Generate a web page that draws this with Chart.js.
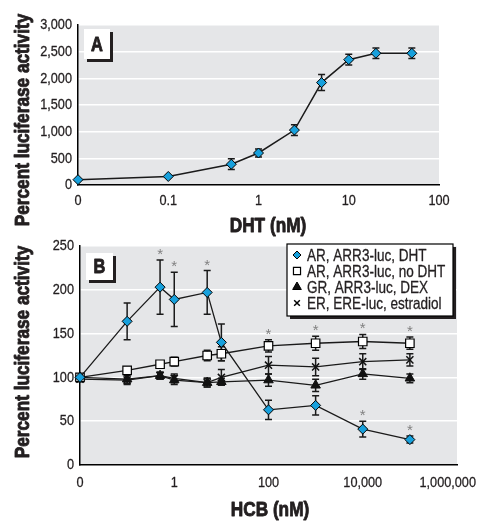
<!DOCTYPE html>
<html>
<head>
<meta charset="utf-8">
<script src="https://cdn.jsdelivr.net/npm/chart.js@4/dist/chart.umd.min.js"></script>
<style>
  html, body { margin: 0; padding: 0; background: #fff; }
  #wrap { position: relative; width: 477px; height: 521px; overflow: hidden; }
  #boxA { position: absolute; left: 0; top: 0; width: 477px; height: 240px; }
  #boxB { position: absolute; left: 0; top: 230px; width: 477px; height: 291px; }
</style>
</head>
<body>
<div id="wrap">
  <div id="boxA"><canvas id="chartA"></canvas></div>
  <div id="boxB"><canvas id="chartB"></canvas></div>
</div>
<script>
// Panel A: DHT dose response (dose 0 is drawn at the "0" position of the log axis)
const dhtDose = [0, 0.1, 0.5, 1, 2.5, 5, 10, 20, 50];
const dhtActivity = [100, 160, 390, 600, 1030, 1920, 2350, 2470, 2470];
const dhtActivityErr = [0, 0, 100, 75, 100, 150, 100, 100, 100];
const dhtTicks = [0.01, 0.1, 1, 10, 100];
const dhtTickLabels = ["0", "0.1", "1", "10", "100"];

// Panel B: HCB dose response
const hcbDose = [0, 0.1, 0.5, 1, 5, 10, 100, 1000, 10000, 100000];
const arDht = [100, 164, 203, 189, 197, 140, 63, 68, 41, 29];
const arDhtErr = [2, 21, 31, 31, 25, 21, 11, 11, 9, 4];
const arDhtSig = [0, 0, 1, 1, 1, 0, 0, 0, 1, 1];
const arNoDht = [100, 108, 115, 118, 125, 127, 136, 139, 141, 139];
const arNoDhtErr = [2, 4, 4, 5, 6, 8, 7, 8, 8, 7];
const arNoDhtSig = [0, 0, 0, 0, 0, 0, 1, 1, 1, 1];
const grDex = [100, 98, 102, 97, 94, 95, 97, 91, 104, 99];
const grDexErr = [3, 5, 4, 5, 5, 4, 7, 7, 6, 5];
const erE2 = [98, 97, 102, 99, 94, 100, 114, 112, 118, 120];
const erE2Err = [3, 5, 4, 5, 5, 9, 10, 10, 9, 7];
const hcbTicks = [0.01, 1, 100, 10000, 1000000];
const hcbTickLabels = ["0", "1", "100", "10,000", "1,000,000"];

const FONT = "'Liberation Sans', Arial, sans-serif";
const NARROW = 0.82; // squeeze Liberation Sans into a narrow face
const INK = "#231f20";
const BLUE = "#17a0dc";
const ZERO_AT = 0.01;
const xPos = (d) => (d === 0 ? ZERO_AT : d);
const pts = (doses, vals) => doses.map((d, i) => ({ x: xPos(d), y: vals[i] }));

// narrow text, drawn at (x, y) with optional rotation; heavy adds a stroke
function text(ctx, str, x, y, align, rot, heavy) {
  ctx.save();
  ctx.translate(x, y);
  if (rot) ctx.rotate(rot);
  ctx.scale(NARROW, 1);
  ctx.textAlign = align;
  ctx.fillText(str, 0, 0);
  if (heavy) {
    ctx.strokeStyle = ctx.fillStyle;
    ctx.lineWidth = heavy;
    ctx.lineJoin = "round";
    ctx.strokeText(str, 0, 0);
  }
  ctx.restore();
}

function shadowBox(ctx, x, y, w, h, border) {
  ctx.fillStyle = INK;
  ctx.fillRect(x + 3, y + 3, w, h);
  ctx.fillStyle = "#fff";
  ctx.fillRect(x, y, w, h);
  if (border) {
    ctx.strokeStyle = "#000";
    ctx.lineWidth = 1.2;
    ctx.strokeRect(x, y, w, h);
  }
}

const extras = {
  id: "extras",
  beforeDraw(chart) {
    const { ctx, chartArea: a } = chart;
    ctx.save();
    ctx.fillStyle = "#e5e6e8";
    ctx.fillRect(a.left, a.top, a.right - a.left, a.bottom - a.top);
    ctx.restore();
  },
  beforeDatasetsDraw(chart) {
    // error bars
    const { ctx } = chart;
    const y = chart.scales.y;
    chart.data.datasets.forEach((ds, i) => {
      const items = chart.getDatasetMeta(i).data;
      ctx.save();
      ctx.strokeStyle = "#1a1a1a";
      ctx.lineWidth = 1.5;
      ds.errors.forEach((e, j) => {
        if (!e) return;
        const v = ds.data[j].y;
        const px = items[j].x;
        const top = y.getPixelForValue(v + e);
        const bot = y.getPixelForValue(v - e);
        ctx.beginPath();
        ctx.moveTo(px, top);
        ctx.lineTo(px, bot);
        ctx.moveTo(px - 3.5, top);
        ctx.lineTo(px + 3.5, top);
        ctx.moveTo(px - 3.5, bot);
        ctx.lineTo(px + 3.5, bot);
        ctx.stroke();
      });
      ctx.restore();
    });
  },
  afterDraw(chart, args, opts) {
    const { ctx, chartArea: a } = chart;
    const x = chart.scales.x;
    const y = chart.scales.y;
    ctx.save();

    // significance stars
    ctx.fillStyle = "#808080";
    ctx.font = "15px " + FONT;
    ctx.textAlign = "center";
    ctx.textBaseline = "alphabetic";
    const m = ctx.measureText("*");
    const shift = (m.actualBoundingBoxAscent - m.actualBoundingBoxDescent) / 2;
    chart.data.datasets.forEach((ds, i) => {
      if (!ds.sig) return;
      const items = chart.getDatasetMeta(i).data;
      ds.sig.forEach((s, j) => {
        if (!s) return;
        const top = y.getPixelForValue(ds.data[j].y + ds.errors[j]);
        ctx.fillText("*", items[j].x, top - 8 + shift);
      });
    });

    // tick labels
    ctx.fillStyle = INK;
    ctx.font = "15.5px " + FONT;
    ctx.textBaseline = "middle";
    y.ticks.forEach((t) => {
      text(ctx, t.value.toLocaleString("en-US"), a.left - 6, y.getPixelForValue(t.value), "right", 0, 0.3);
    });
    opts.ticks.forEach((t, i) => {
      const label = opts.tickLabels[i];
      const w = ctx.measureText(label).width * NARROW;
      let px = x.getPixelForValue(t);
      px = Math.min(px, chart.width - 1 - w / 2);
      text(ctx, label, px, a.bottom + opts.tickOffset, "center", 0, 0.3);
    });

    // axis titles
    ctx.font = "bold 21px " + FONT;
    text(ctx, opts.xTitle, opts.xTitleAt[0], opts.xTitleAt[1], "center", 0, 0.9);
    text(ctx, opts.yTitle, opts.yTitleAt[0], opts.yTitleAt[1], "center", -Math.PI / 2, 0.9);

    // panel letter
    const p = opts.panelBox;
    shadowBox(ctx, p[0], p[1], p[2], p[3], false);
    ctx.fillStyle = INK;
    ctx.font = "bold 20px " + FONT;
    text(ctx, opts.panel, p[0] + p[2] / 2, p[1] + p[3] / 2 + 1, "center", 0, 0.9);

    // legend
    if (opts.legendBox) {
      const L = opts.legendBox;
      shadowBox(ctx, L[0], L[1], L[2], L[3], true);
      ctx.font = "16.5px " + FONT;
      chart.data.datasets.forEach((ds, i) => {
        const cy = L[1] + 11 + i * 16;
        ctx.fillStyle = ds.pointBackgroundColor;
        ctx.strokeStyle = "#000";
        ctx.lineWidth = ds.pointBorderWidth;
        Chart.helpers.drawPoint(ctx, {
          pointStyle: ds.pointStyle,
          radius: ds.legendRadius,
          borderWidth: ds.pointBorderWidth,
          rotation: 0
        }, L[0] + 10, cy);
        ctx.fillStyle = INK;
        text(ctx, ds.label, L[0] + 20, cy + 1, "left", 0, 0.3);
      });
    }
    ctx.restore();
  }
};

new Chart(document.getElementById("chartA"), {
  type: "line",
  data: {
    datasets: [
      {
        label: "AR, ARR3-luc, DHT",
        data: pts(dhtDose, dhtActivity),
        errors: dhtActivityErr,
        borderColor: "#1a1a1a",
        borderWidth: 1.5,
        pointStyle: "rectRot",
        pointRadius: 5,
        pointBackgroundColor: BLUE,
        pointBorderColor: "#000",
        pointBorderWidth: 1,
        clip: false
      }
    ]
  },
  options: {
    animation: false,
    responsive: true,
    maintainAspectRatio: false,
    layout: { padding: { left: 0, right: 38, top: 25, bottom: 0 } },
    plugins: {
      legend: { display: false },
      tooltip: { enabled: false },
      extras: {
        ticks: dhtTicks,
        tickLabels: dhtTickLabels,
        tickOffset: 16,
        xTitle: "DHT (nM)",
        xTitleAt: [268, 226],
        yTitle: "Percent luciferase activity",
        yTitleAt: [23, 120],
        panel: "A",
        panelBox: [84, 29, 26, 30]
      }
    },
    scales: {
      x: {
        type: "logarithmic",
        min: ZERO_AT,
        max: 100,
        grid: { display: false },
        border: { color: "#000", width: 1.5 },
        ticks: { display: false },
        afterFit: (s) => { s.height = 55; }
      },
      y: {
        min: 0,
        max: 3000,
        ticks: { stepSize: 500, display: false },
        grid: { color: "#fff", lineWidth: 1.5, drawTicks: false },
        border: { color: "#000", width: 1.5 },
        afterFit: (s) => { s.width = 78; }
      }
    }
  },
  plugins: [extras]
});

new Chart(document.getElementById("chartB"), {
  type: "line",
  data: {
    datasets: [
      {
        label: "AR, ARR3-luc, DHT",
        data: pts(hcbDose, arDht),
        errors: arDhtErr,
        sig: arDhtSig,
        borderColor: "#1a1a1a",
        borderWidth: 1.3,
        pointStyle: "rectRot",
        pointRadius: 5,
        legendRadius: 4,
        pointBackgroundColor: BLUE,
        pointBorderColor: "#000",
        pointBorderWidth: 1,
        clip: false
      },
      {
        label: "AR, ARR3-luc, no DHT",
        data: pts(hcbDose, arNoDht),
        errors: arNoDhtErr,
        sig: arNoDhtSig,
        borderColor: "#1a1a1a",
        borderWidth: 1.3,
        pointStyle: "rect",
        pointRadius: 6,
        legendRadius: 5,
        pointBackgroundColor: "#fff",
        pointBorderColor: "#000",
        pointBorderWidth: 1.2,
        clip: false
      },
      {
        label: "GR, ARR3-luc, DEX",
        data: pts(hcbDose, grDex),
        errors: grDexErr,
        borderColor: "#1a1a1a",
        borderWidth: 1.3,
        pointStyle: "triangle",
        pointRadius: 5.5,
        legendRadius: 5,
        pointBackgroundColor: "#111",
        pointBorderColor: "#111",
        pointBorderWidth: 1,
        clip: false
      },
      {
        label: "ER, ERE-luc, estradiol",
        data: pts(hcbDose, erE2),
        errors: erE2Err,
        borderColor: "#1a1a1a",
        borderWidth: 1.3,
        pointStyle: "crossRot",
        pointRadius: 5,
        legendRadius: 4,
        pointBackgroundColor: "#111",
        pointBorderColor: "#111",
        pointBorderWidth: 1.5,
        clip: false
      }
    ]
  },
  options: {
    animation: false,
    responsive: true,
    maintainAspectRatio: false,
    layout: { padding: { left: 0, right: 20, top: 16, bottom: 0 } },
    plugins: {
      legend: { display: false },
      tooltip: { enabled: false },
      extras: {
        ticks: hcbTicks,
        tickLabels: hcbTickLabels,
        tickOffset: 18,
        xTitle: "HCB (nM)",
        xTitleAt: [270, 280],
        yTitle: "Percent luciferase activity",
        yTitleAt: [23, 122],
        panel: "B",
        panelBox: [86, 23, 27, 27],
        legendBox: [287, 14, 166, 72]
      }
    },
    scales: {
      x: {
        type: "logarithmic",
        min: ZERO_AT,
        max: 1000000,
        grid: { display: false },
        border: { color: "#000", width: 1.5 },
        ticks: { display: false },
        afterFit: (s) => { s.height = 56; }
      },
      y: {
        min: 0,
        max: 250,
        ticks: { stepSize: 50, display: false },
        grid: { color: "#fff", lineWidth: 1.5, drawTicks: false },
        border: { color: "#000", width: 1.5 },
        afterFit: (s) => { s.width = 80; }
      }
    }
  },
  plugins: [extras]
});
</script>
</body>
</html>
